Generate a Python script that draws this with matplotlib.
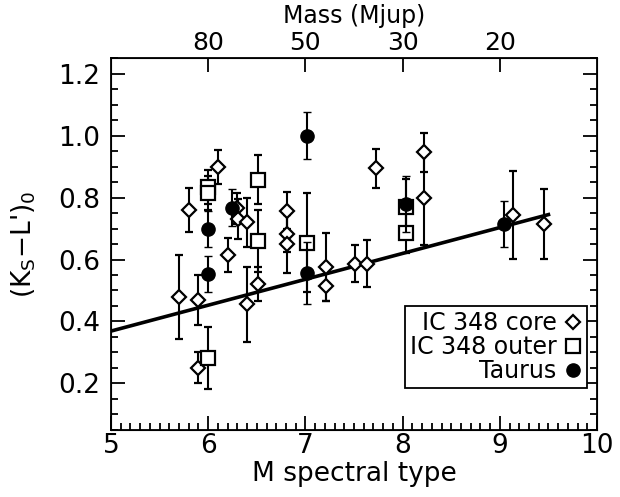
import matplotlib
matplotlib.use("Agg")
import matplotlib.pyplot as plt
from matplotlib.ticker import MultipleLocator
from matplotlib.lines import Line2D

plt.rcParams['font.family'] = ['DejaVu Sans']
plt.rcParams['mathtext.default'] = 'regular'

# IC 348 core (open diamonds)
core_x = [5.70, 5.80, 5.90, 5.90, 6.10, 6.20, 6.30, 6.31, 6.40, 6.40, 6.51,
          6.81, 6.81, 6.81, 7.21, 7.21, 7.51, 7.63, 7.73, 8.22, 8.22, 9.14, 9.45]
core_y = [0.48, 0.76, 0.47, 0.25, 0.90, 0.615, 0.765, 0.73, 0.72, 0.455, 0.52,
          0.758, 0.683, 0.651, 0.575, 0.515, 0.587, 0.587, 0.894, 0.946, 0.797, 0.745, 0.715]
core_err = [0.135, 0.07, 0.08, 0.05, 0.055, 0.055, 0.05, 0.065, 0.08, 0.12, 0.055,
            0.06, 0.06, 0.095, 0.11, 0.05, 0.06, 0.075, 0.062, 0.062, 0.15, 0.142, 0.113]

# IC 348 outer (open squares)
outer_x = [6.00, 6.00, 6.00, 6.51, 6.51, 7.02, 8.03, 8.03]
outer_y = [0.835, 0.815, 0.283, 0.858, 0.659, 0.654, 0.77, 0.686]
outer_err = [0.055, 0.055, 0.10, 0.08, 0.10, 0.16, 0.09, 0.065]

# Taurus (filled circles)
taurus_x = [6.00, 6.00, 6.24, 7.02, 7.02, 8.03, 9.04]
taurus_y = [0.699, 0.554, 0.767, 1.00, 0.557, 0.78, 0.715]
taurus_err = [0.058, 0.058, 0.06, 0.075, 0.10, 0.09, 0.075]

# linear fit
fit_x = [5.0, 9.5]
fit_y = [0.369, 0.745]

# top axis: mass in Jupiter masses
mass_pos = [6.0, 7.0, 8.0, 9.0]
mass_labels = ['80', '50', '30', '20']

fig = plt.figure(figsize=(6.2, 4.97), dpi=100)
ax = fig.add_axes([0.179, 0.135, 0.784, 0.748])

ax.plot(fit_x, fit_y, color='black', lw=2.6, zorder=1)

eb = dict(ecolor='black', elinewidth=1.5, capsize=3, capthick=1.5, linestyle='none')
ax.errorbar(core_x, core_y, yerr=core_err, marker='D', ms=6.7, mfc='white', mec='black',
            mew=1.6, zorder=3, **eb)
ax.errorbar(outer_x, outer_y, yerr=outer_err, marker='s', ms=10, mfc='white', mec='black',
            mew=1.6, zorder=3, **eb)
ax.errorbar(taurus_x, taurus_y, yerr=taurus_err, marker='o', ms=9.5, mfc='black', mec='black',
            mew=1, zorder=4, **eb)

ax.set_xlim(5, 10)
ax.set_ylim(0.05, 1.25)
ax.xaxis.set_major_locator(MultipleLocator(1))
ax.xaxis.set_minor_locator(MultipleLocator(0.1))
ax.yaxis.set_minor_locator(MultipleLocator(0.05))
ax.set_yticks([0.2, 0.4, 0.6, 0.8, 1.0, 1.2])
ax.set_yticklabels(['0.2', '0.4', '0.6', '0.8', '1.0', '1.2'])
ax.tick_params(which='both', direction='in', right=True, top=False, labelsize=19, width=1.3)
ax.tick_params(which='major', length=10)
ax.tick_params(axis='x', pad=2)
ax.tick_params(axis='y', pad=8)
ax.tick_params(which='minor', length=5)
for s in ax.spines.values():
    s.set_linewidth(1.3)

ax.set_xlabel('M spectral type', fontsize=19, labelpad=2)
ax.set_ylabel("(K$_S$−L')$_0$", fontsize=19, labelpad=14)

top = ax.twiny()
top.set_xlim(ax.get_xlim())
top.set_xticks(mass_pos)
top.set_xticklabels(mass_labels)
top.xaxis.set_minor_locator(plt.NullLocator())
top.tick_params(direction='in', length=10, width=1.3, labelsize=18, pad=2)
top.set_xlabel('Mass (Mjup)', fontsize=17)
top.xaxis.set_label_coords(0.5, 1.095)

handles = [
    Line2D([], [], ls='none', marker='D', ms=6.7, mfc='white', mec='black', mew=1.6),
    Line2D([], [], ls='none', marker='s', ms=10, mfc='white', mec='black', mew=1.6),
    Line2D([], [], ls='none', marker='o', ms=9.5, mfc='black', mec='black'),
]
leg = ax.legend(handles, ['IC 348 core', 'IC 348 outer', 'Taurus'],
                loc='lower right', bbox_to_anchor=(0.98, 0.113), markerfirst=False, fontsize=17,
                frameon=True, fancybox=False, edgecolor='black', framealpha=1,
                handlelength=0.8, handletextpad=0.3, labelspacing=0.0, borderpad=0.2,
                borderaxespad=0)
leg.get_frame().set_linewidth(1.3)

fig.savefig('out.png', dpi=100)
